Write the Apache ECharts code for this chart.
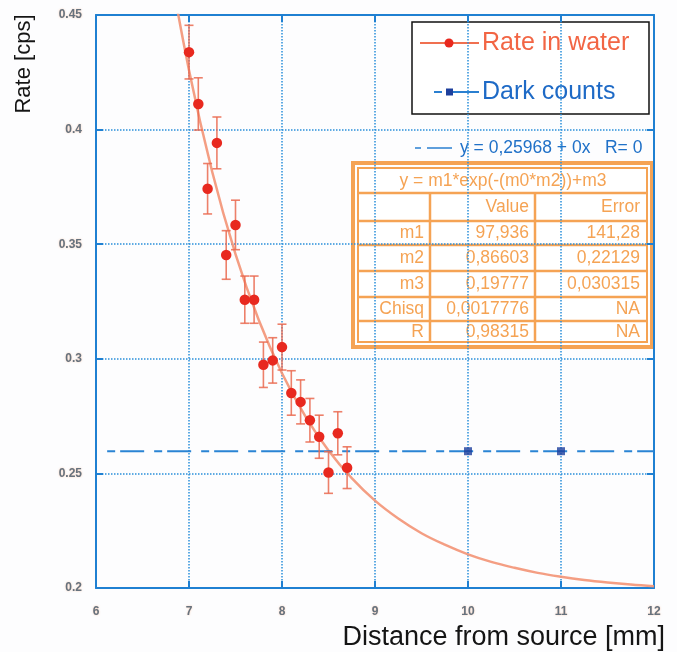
<!DOCTYPE html>
<html>
<head>
<meta charset="utf-8">
<script src="https://cdn.jsdelivr.net/npm/echarts@6/dist/echarts.min.js"></script>
<style>
html,body{margin:0;padding:0;background:#fdfdfe;}
#chart{width:677px;height:652px;}
</style>
</head>
<body>
<div id="chart"></div>
<script>
// ---- data ----
const rateX   = [7.0, 7.1, 7.2, 7.3, 7.4, 7.5, 7.6, 7.7, 7.8, 7.9, 8.0, 8.1, 8.2, 8.3, 8.4, 8.5, 8.6, 8.7];
const rateY   = [0.4338, 0.4112, 0.3742, 0.3942, 0.3453, 0.3584, 0.3258, 0.3258, 0.2974, 0.2993, 0.3051, 0.2851, 0.2812, 0.2732, 0.2660, 0.2504, 0.2675, 0.2525];
const rateErr = [0.0117, 0.0114, 0.0110, 0.0113, 0.0106, 0.0108, 0.0103, 0.0103, 0.0099, 0.0099, 0.0100, 0.0097, 0.0096, 0.0095, 0.0094, 0.0091, 0.0094, 0.0091];

const fitX = [6.75, 7.0, 7.25, 7.5, 7.75, 8.0, 8.25, 8.5, 8.75, 9.0, 9.25, 9.5, 9.75, 10.0, 10.25, 10.5, 10.75, 11.0, 11.25, 11.5, 11.75, 12.0];
const fitY = [0.4810, 0.4259, 0.3815, 0.3457, 0.3169, 0.2937, 0.2750, 0.2600, 0.2479, 0.2381, 0.2303, 0.2239, 0.2189, 0.2147, 0.2114, 0.2088, 0.2066, 0.2049, 0.2035, 0.2024, 0.2015, 0.2008];

const darkX = [10, 11];
const darkY = [0.25968, 0.25968];
const darkFitX = [6.12, 12];
const darkFitY = [0.25968, 0.25968];

const xTicks = [6, 7, 8, 9, 10, 11, 12];
const yTicks = [0.2, 0.25, 0.3, 0.35, 0.4, 0.45];

const fitLabel = 'y = 0,25968 + 0x   R= 0';
const tableTitle = 'y = m1*exp(-(m0*m2))+m3';
const tableHead = ['', 'Value', 'Error'];
const tableRows = [
  ['m1', '97,936', '141,28'],
  ['m2', '0,86603', '0,22129'],
  ['m3', '0,19777', '0,030315'],
  ['Chisq', '0,0017776', 'NA'],
  ['R', '0,98315', 'NA']
];

// ---- styling ----
const FONT = "'Liberation Sans', Arial, Helvetica, sans-serif";
const BLUE = '#1f80d2';
const GRID = '#2a8fda';
const ORANGE = '#f5a354';
const LABEL = {color: '#66727e', fontSize: 12, fontWeight: 'bold', fontFamily: FONT,
  textShadowColor: 'rgba(245,160,110,0.55)', textShadowBlur: 2};

const zip = (a, b) => a.map((v, i) => [v, b[i]]);

const chart = echarts.init(document.getElementById('chart'), null, {renderer: 'canvas'});

// table graphics
const T = {l: 353, r: 652, t: 163, b: 347};
const rowLines = [193, 221, 245, 271, 297, 321];
const rowCenters = [207, 233, 258, 284, 309, 332];
const colRight = [424, 529, 640];
const TF = '17.5px ' + FONT;
const tableEls = [
  {type: 'rect', shape: {x: T.l, y: T.t, width: T.r - T.l, height: T.b - T.t},
   style: {fill: '#ffffff', stroke: ORANGE, lineWidth: 4}},
  {type: 'rect', shape: {x: T.l + 5, y: T.t + 5, width: T.r - T.l - 10, height: T.b - T.t - 10},
   style: {fill: 'none', stroke: ORANGE, lineWidth: 2}}
];
rowLines.forEach(y => tableEls.push({type: 'line', shape: {x1: T.l + 5, y1: y, x2: T.r - 5, y2: y},
  style: {stroke: ORANGE, lineWidth: 2.5}}));
[430, 535].forEach(x => tableEls.push({type: 'line', shape: {x1: x, y1: rowLines[0], x2: x, y2: T.b - 5},
  style: {stroke: ORANGE, lineWidth: 2.5}}));
tableEls.push({type: 'text', x: 503, y: 181, style: {text: tableTitle, fill: ORANGE, font: TF, align: 'center', verticalAlign: 'middle'}});
[tableHead].concat(tableRows).forEach((row, ri) => {
  row.forEach((cell, ci) => {
    if (!cell) return;
    tableEls.push({type: 'text', x: colRight[ci], y: rowCenters[ri],
      style: {text: cell, fill: ORANGE, font: TF, align: 'right', verticalAlign: 'middle'}});
  });
});

const legendEls = [
  {type: 'rect', shape: {x: 412, y: 22, width: 237, height: 92}, style: {fill: '#ffffff', stroke: '#111111', lineWidth: 1.5}},
  {type: 'line', shape: {x1: 420, y1: 43, x2: 479, y2: 43}, style: {stroke: '#f07050', lineWidth: 2}},
  {type: 'circle', shape: {cx: 449, cy: 43, r: 4.5}, style: {fill: '#e8281e'}},
  {type: 'text', x: 482, y: 43, style: {text: 'Rate in water', fill: '#f26544', font: '25px ' + FONT, verticalAlign: 'middle'}},
  {type: 'line', shape: {x1: 434, y1: 92, x2: 442, y2: 92}, style: {stroke: '#2a7fd0', lineWidth: 2}},
  {type: 'line', shape: {x1: 446, y1: 92, x2: 479, y2: 92}, style: {stroke: '#2a7fd0', lineWidth: 2}},
  {type: 'rect', shape: {x: 446, y: 88.5, width: 7, height: 7}, style: {fill: '#1d3f9c'}},
  {type: 'text', x: 482, y: 92, style: {text: 'Dark counts', fill: '#1e6ac6', font: '25px ' + FONT, verticalAlign: 'middle'}}
];

const fitLabelEls = [
  {type: 'line', shape: {x1: 415, y1: 148, x2: 421, y2: 148}, style: {stroke: '#2a7fd0', lineWidth: 1.5}},
  {type: 'line', shape: {x1: 427, y1: 148, x2: 452, y2: 148}, style: {stroke: '#2a7fd0', lineWidth: 1.5}},
  {type: 'text', x: 460, y: 148, style: {text: fitLabel, fill: '#2071c8', font: '17.5px ' + FONT, verticalAlign: 'middle'}}
];

const axisCommon = {
  type: 'value', min: 6, max: 12, interval: 1,
  axisLine: {show: true, lineStyle: {color: BLUE, width: 2}},
  axisTick: {show: true, inside: true, length: 7, lineStyle: {color: BLUE, width: 2}}
};

const option = {
  backgroundColor: '#fdfdfe',
  animation: false,
  grid: {left: 96, right: 23, top: 15, bottom: 64, containLabel: false},
  xAxis: [
    Object.assign({}, axisCommon, {
      position: 'bottom',
      splitLine: {show: true, lineStyle: {color: GRID, width: 1.5, type: [1.5, 1.5]}},
      axisLabel: Object.assign({margin: 18, formatter: v => xTicks.includes(v) ? String(v) : ''}, LABEL)
    }),
    Object.assign({}, axisCommon, {position: 'top', splitLine: {show: false}, axisLabel: {show: false}})
  ],
  yAxis: [
    {type: 'value', min: 0.2, max: 0.45, interval: 0.05, position: 'left',
     axisLine: {show: true, lineStyle: {color: BLUE, width: 2}},
     axisTick: {show: true, inside: true, length: 7, lineStyle: {color: BLUE, width: 2}},
     splitLine: {show: true, lineStyle: {color: GRID, width: 1.5, type: [1.5, 1.5]}},
     axisLabel: Object.assign({margin: 14, formatter: v => {
       const t = yTicks.find(k => Math.abs(k - v) < 1e-9);
       return t === undefined ? '' : String(t);
     }}, LABEL)},
    {type: 'value', min: 0.2, max: 0.45, interval: 0.05, position: 'right',
     axisLine: {show: true, lineStyle: {color: BLUE, width: 2}},
     axisTick: {show: true, inside: true, length: 7, lineStyle: {color: BLUE, width: 2}},
     splitLine: {show: false}, axisLabel: {show: false}}
  ],
  series: [
    {name: 'Rate in water fit', type: 'line', data: zip(fitX, fitY), smooth: 0.4,
     showSymbol: false, clip: true, z: 2,
     lineStyle: {color: '#f39375', width: 2.5, opacity: 0.9}},
    {name: 'Dark counts fit', type: 'line', data: zip(darkFitX, darkFitY), showSymbol: false, z: 2,
     lineStyle: {color: '#2a84d4', width: 2, type: [8, 5, 24, 10]}},
    {name: 'Rate in water errors', type: 'custom', z: 3,
     data: rateX.map((x, i) => [x, rateY[i], rateErr[i]]),
     renderItem: (params, api) => {
       const x = api.value(0), y = api.value(1), e = api.value(2);
       const top = api.coord([x, y + e]);
       const bot = api.coord([x, y - e]);
       const cw = 4.5;
       const st = {stroke: '#ea6a50', lineWidth: 1.6, opacity: 0.85};
       return {type: 'group', children: [
         {type: 'line', shape: {x1: top[0], y1: top[1], x2: bot[0], y2: bot[1]}, style: st},
         {type: 'line', shape: {x1: top[0] - cw, y1: top[1], x2: top[0] + cw, y2: top[1]}, style: st},
         {type: 'line', shape: {x1: bot[0] - cw, y1: bot[1], x2: bot[0] + cw, y2: bot[1]}, style: st}
       ]};
     }},
    {name: 'Rate in water', type: 'scatter', data: zip(rateX, rateY), symbol: 'circle', symbolSize: 10.5, z: 4,
     itemStyle: {color: '#e8291f', opacity: 1}},
    {name: 'Dark counts', type: 'scatter', data: zip(darkX, darkY), symbol: 'rect', symbolSize: 8, z: 4,
     itemStyle: {color: '#1d3f9c'}}
  ],
  graphic: [
    {type: 'group', z: 100, children: fitLabelEls},
    {type: 'group', z: 100, children: tableEls},
    {type: 'group', z: 100, children: legendEls},
    {type: 'text', z: 100, x: 24, y: 64, rotation: Math.PI / 2,
     style: {text: 'Rate [cps]', fill: '#151515', font: '22px ' + FONT, align: 'center', verticalAlign: 'middle'}},
    {type: 'text', z: 100, x: 665, y: 638,
     style: {text: 'Distance from source [mm]', fill: '#151515', font: '27px ' + FONT, align: 'right', verticalAlign: 'middle'}}
  ]
};
chart.setOption(option);
</script>
</body>
</html>
